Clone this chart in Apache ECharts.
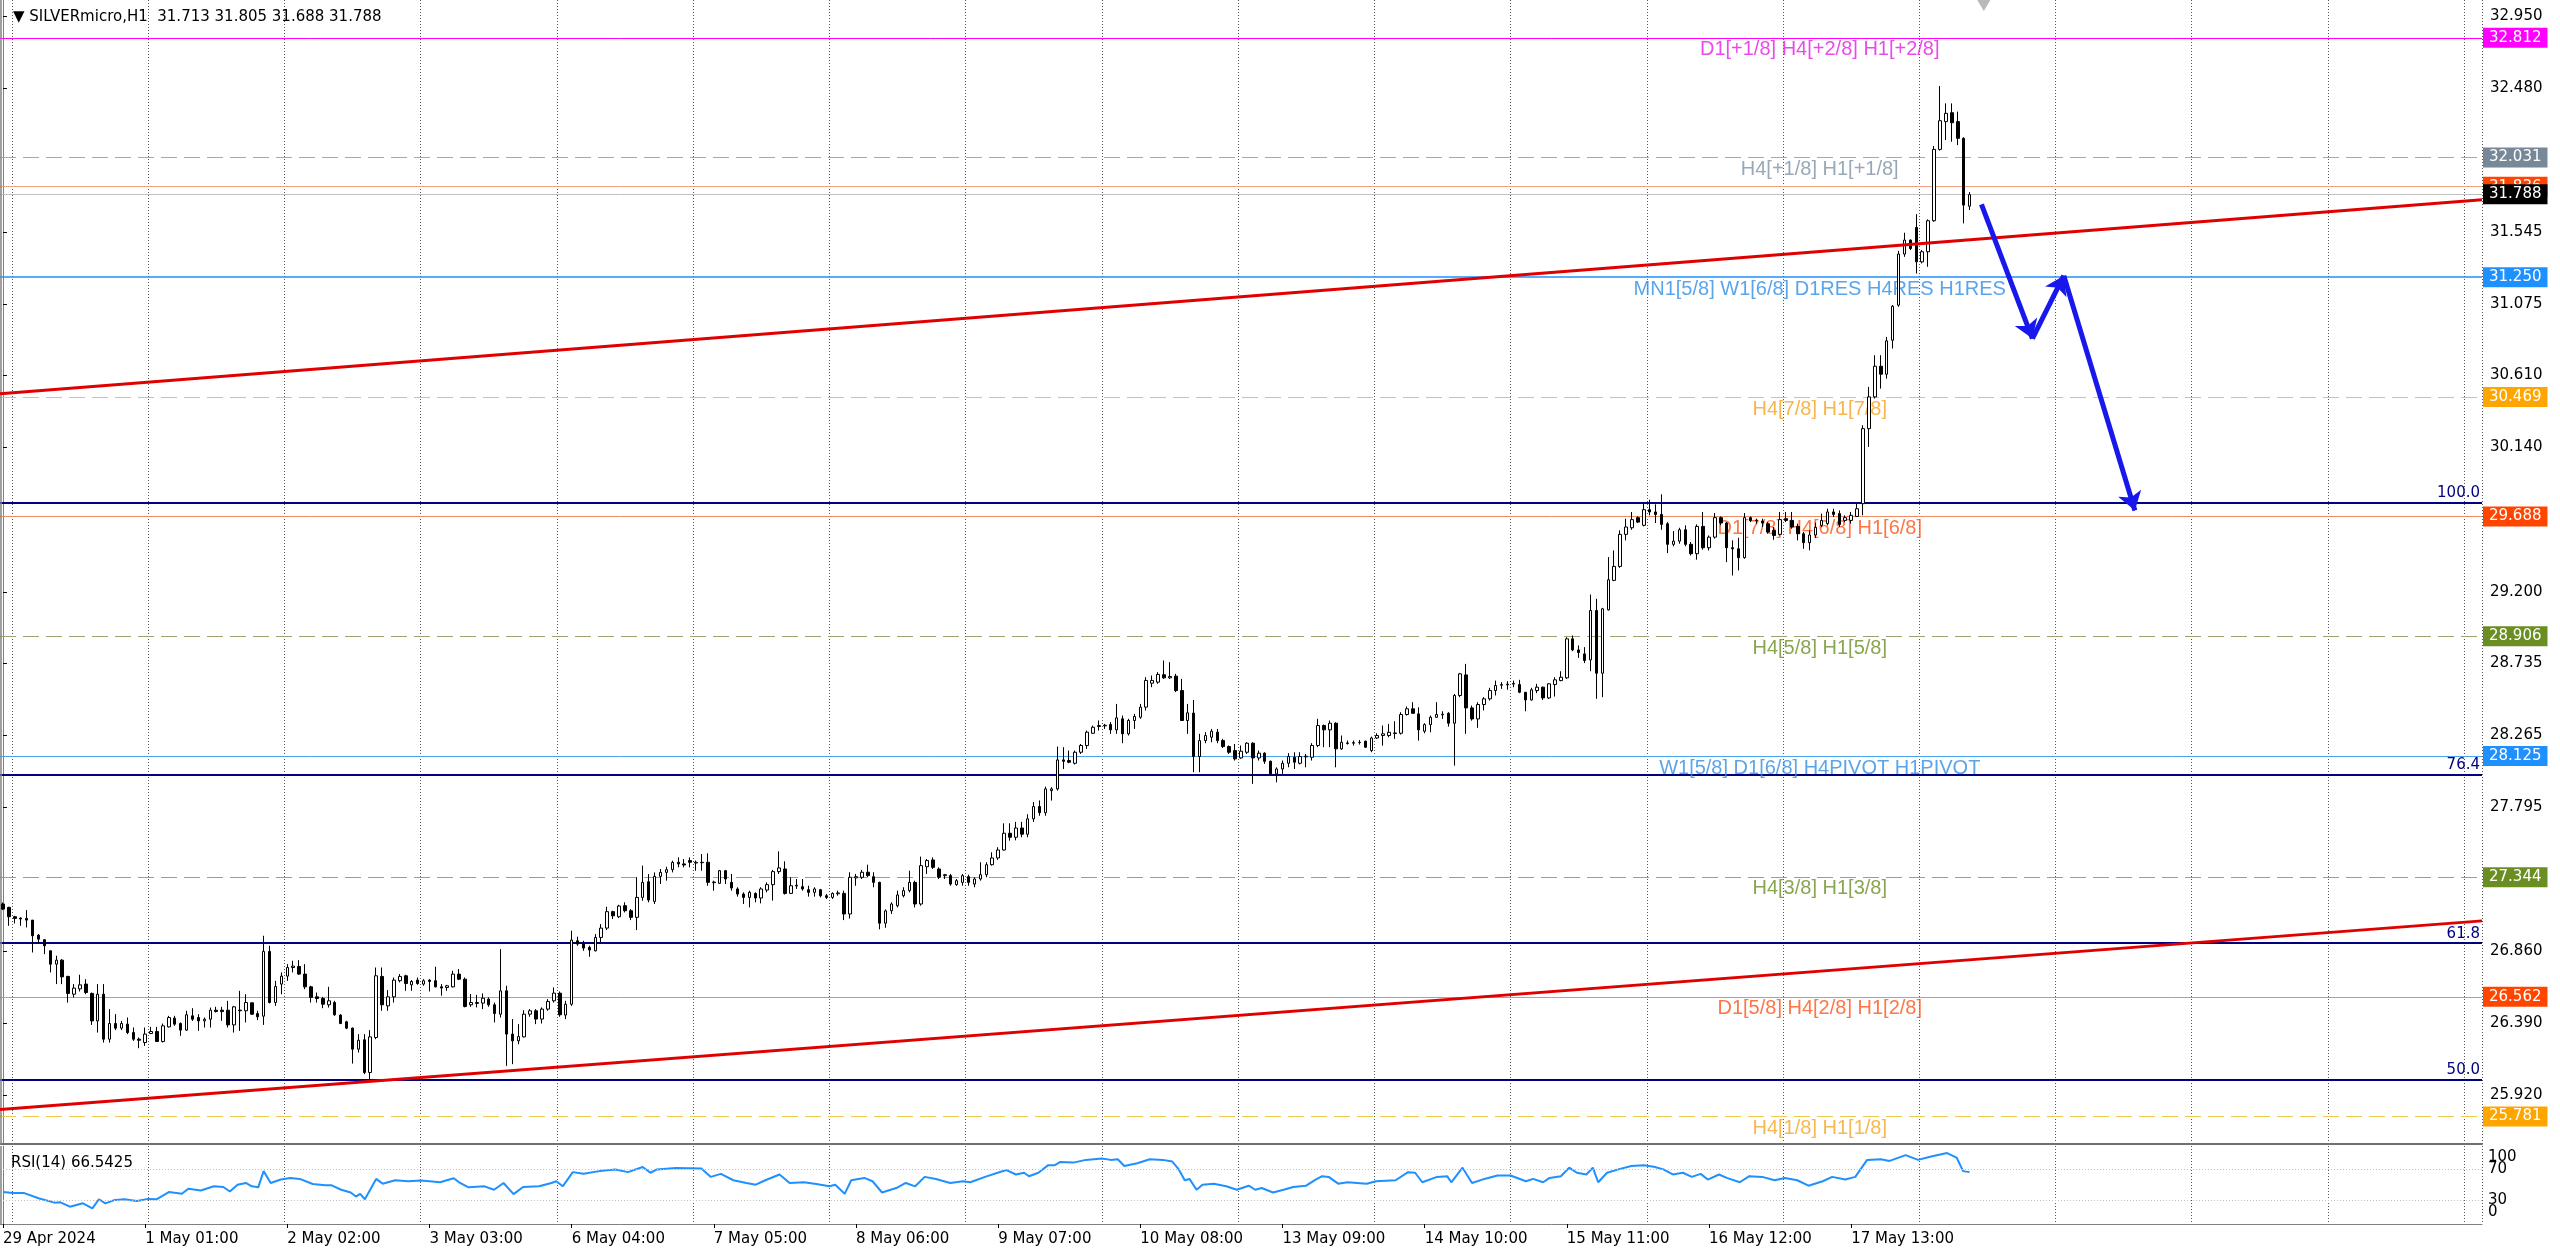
<!DOCTYPE html>
<html><head><meta charset="utf-8">
<script src="https://cdn.jsdelivr.net/npm/echarts@6/dist/echarts.min.js"></script>
<style>html,body{margin:0;padding:0;background:#fff;overflow:hidden}#c{width:2560px;height:1253px}</style>
</head><body><div id="c"></div>
<script>
// ---------------- DATA ----------------
const symbolName = 'SILVERmicro,H1';
const open = [
27.165,27.143,27.082,27.073,27.071,27.060,26.962,26.932,26.860,26.773,
26.799,26.693,26.577,26.612,26.643,26.582,26.403,26.577,26.284,26.386,
26.356,26.382,26.327,26.284,26.262,26.321,26.334,26.269,26.364,26.421,
26.386,26.343,26.436,26.425,26.403,26.414,26.473,26.473,26.473,26.377,
26.473,26.469,26.521,26.451,26.434,26.856,26.523,26.643,26.695,26.751,
26.758,26.708,26.625,26.560,26.549,26.508,26.523,26.441,26.397,26.356,
26.219,26.280,26.067,26.295,26.693,26.501,26.560,26.665,26.697,26.638,
26.669,26.643,26.669,26.665,26.625,26.621,26.625,26.708,26.675,26.508,
26.517,26.519,26.545,26.508,26.447,26.599,26.317,26.273,26.299,26.447,
26.469,26.415,26.480,26.534,26.584,26.441,26.512,26.925,26.904,26.882,
26.860,26.947,27.008,27.115,27.082,27.154,27.121,27.078,27.208,27.310,
27.182,27.345,27.371,27.389,27.437,27.426,27.448,27.432,27.434,27.437,
27.304,27.300,27.382,27.306,27.263,27.230,27.208,27.234,27.204,27.256,
27.291,27.376,27.393,27.234,27.282,27.278,27.258,27.241,27.258,27.219,
27.208,27.232,27.234,27.100,27.335,27.339,27.372,27.343,27.306,27.040,
27.121,27.154,27.219,27.252,27.306,27.165,27.408,27.452,27.393,27.350,
27.350,27.291,27.306,27.343,27.295,27.328,27.356,27.421,27.465,27.517,
27.626,27.600,27.660,27.620,27.720,27.800,27.760,27.904,27.915,28.104,
28.100,28.082,28.154,28.198,28.278,28.322,28.326,28.335,28.300,28.372,
28.274,28.361,28.382,28.448,28.604,28.611,28.659,28.639,28.650,28.556,
28.361,28.409,28.126,28.230,28.252,28.285,28.230,28.191,28.165,28.117,
28.154,28.213,28.117,28.148,28.095,28.013,28.045,28.082,28.121,28.082,
28.124,28.121,28.198,28.328,28.300,28.343,28.176,28.211,28.213,28.217,
28.226,28.165,28.247,28.263,28.263,28.276,28.278,28.400,28.437,28.404,
28.291,28.334,28.382,28.398,28.408,28.343,28.524,28.658,28.443,28.371,
28.465,28.502,28.556,28.591,28.593,28.598,28.595,28.545,28.495,28.556,
28.578,28.508,28.595,28.621,28.639,28.893,28.821,28.795,28.756,29.078,
28.669,29.082,29.274,29.365,29.574,29.617,29.683,29.633,29.735,29.720,
29.704,29.643,29.509,29.530,29.604,29.509,29.448,29.626,29.487,29.556,
29.683,29.648,29.487,29.480,29.422,29.683,29.663,29.661,29.643,29.600,
29.574,29.676,29.665,29.626,29.578,29.520,29.570,29.633,29.644,29.720,
29.709,29.665,29.665,29.691,29.774,30.263,30.470,30.670,30.618,30.839,
31.068,31.401,31.492,31.574,31.350,31.416,31.618,32.083,32.264,32.322,
32.264,32.155,31.713];
const high = [
27.175,27.147,27.088,27.078,27.125,27.060,26.969,26.936,26.860,26.828,
26.806,26.697,26.643,26.704,26.675,26.588,26.643,26.643,26.480,26.447,
26.403,26.425,26.360,26.295,26.360,26.364,26.364,26.386,26.436,26.436,
26.393,26.469,26.486,26.447,26.425,26.490,26.495,26.495,26.534,26.501,
26.599,26.577,26.523,26.469,26.958,26.893,26.664,26.719,26.773,26.795,
26.799,26.773,26.632,26.588,26.560,26.625,26.534,26.447,26.404,26.360,
26.317,26.317,26.343,26.751,26.751,26.604,26.686,26.708,26.704,26.669,
26.686,26.675,26.675,26.756,26.643,26.638,26.730,26.741,26.686,26.578,
26.573,26.582,26.556,26.523,26.871,26.632,26.415,26.382,26.473,26.480,
26.480,26.491,26.545,26.621,26.595,26.534,26.991,26.952,26.925,26.893,
26.969,27.034,27.147,27.121,27.160,27.176,27.132,27.339,27.415,27.360,
27.371,27.393,27.408,27.447,27.469,27.458,27.469,27.448,27.491,27.495,
27.317,27.387,27.387,27.361,27.274,27.241,27.252,27.241,27.274,27.306,
27.387,27.508,27.443,27.339,27.328,27.328,27.284,27.274,27.263,27.230,
27.241,27.252,27.252,27.372,27.361,27.387,27.421,27.372,27.310,27.130,
27.176,27.252,27.274,27.382,27.317,27.474,27.458,27.469,27.404,27.361,
27.361,27.328,27.361,27.356,27.339,27.437,27.437,27.502,27.535,27.691,
27.691,27.700,27.700,27.750,27.830,27.840,27.930,27.926,28.191,28.187,
28.165,28.165,28.208,28.295,28.328,28.361,28.339,28.350,28.469,28.393,
28.372,28.404,28.469,28.643,28.654,28.676,28.752,28.741,28.665,28.632,
28.469,28.495,28.274,28.285,28.306,28.306,28.241,28.198,28.208,28.198,
28.219,28.219,28.165,28.154,28.100,28.056,28.100,28.148,28.154,28.154,
28.143,28.213,28.372,28.335,28.361,28.350,28.263,28.230,28.230,28.234,
28.230,28.256,28.278,28.328,28.339,28.356,28.415,28.452,28.480,28.447,
28.343,28.393,28.480,28.421,28.415,28.534,28.671,28.730,28.458,28.480,
28.513,28.574,28.621,28.611,28.617,28.621,28.626,28.545,28.574,28.600,
28.582,28.604,28.643,28.682,28.904,28.915,28.850,28.839,29.182,29.154,
29.095,29.426,29.469,29.600,29.676,29.720,29.691,29.785,29.800,29.770,
29.835,29.654,29.596,29.617,29.633,29.524,29.639,29.720,29.567,29.713,
29.691,29.654,29.535,29.552,29.713,29.691,29.676,29.676,29.654,29.622,
29.720,29.720,29.720,29.644,29.590,29.600,29.650,29.709,29.741,29.741,
29.730,29.698,29.720,29.774,30.285,30.535,30.742,30.742,30.861,31.068,
31.422,31.540,31.496,31.661,31.427,31.627,32.105,32.496,32.383,32.383,
32.329,32.162,31.805];
const low = [
27.125,27.023,27.038,27.023,27.012,26.849,26.914,26.838,26.719,26.643,
26.643,26.523,26.556,26.595,26.577,26.377,26.327,26.262,26.262,26.343,
26.343,26.317,26.273,26.225,26.240,26.317,26.267,26.262,26.360,26.371,
26.306,26.338,26.403,26.338,26.360,26.360,26.458,26.403,26.360,26.327,
26.338,26.393,26.443,26.408,26.377,26.517,26.501,26.577,26.664,26.719,
26.704,26.610,26.523,26.523,26.486,26.490,26.436,26.382,26.349,26.125,
26.197,26.056,26.023,26.284,26.469,26.469,26.523,26.654,26.599,26.599,
26.638,26.632,26.595,26.621,26.567,26.599,26.621,26.669,26.491,26.495,
26.491,26.480,26.495,26.393,26.425,26.110,26.121,26.251,26.295,26.430,
26.382,26.386,26.469,26.523,26.430,26.415,26.501,26.893,26.860,26.821,
26.856,26.915,26.995,27.067,27.073,27.110,27.060,26.995,27.186,27.176,
27.165,27.295,27.317,27.371,27.404,27.404,27.404,27.382,27.382,27.284,
27.252,27.295,27.295,27.252,27.213,27.165,27.143,27.176,27.169,27.241,
27.187,27.361,27.226,27.230,27.263,27.252,27.213,27.213,27.208,27.198,
27.198,27.219,27.060,27.070,27.284,27.328,27.339,27.274,27.000,27.010,
27.100,27.143,27.208,27.241,27.143,27.154,27.361,27.393,27.328,27.328,
27.284,27.284,27.284,27.284,27.274,27.317,27.339,27.415,27.452,27.513,
27.578,27.580,27.600,27.600,27.700,27.740,27.740,27.839,27.904,28.045,
28.082,28.074,28.143,28.176,28.274,28.295,28.306,28.274,28.274,28.213,
28.263,28.306,28.372,28.426,28.578,28.600,28.632,28.632,28.546,28.361,
28.274,28.024,28.024,28.213,28.219,28.213,28.182,28.143,28.100,28.111,
28.143,27.948,28.100,28.078,28.008,27.958,28.013,28.056,28.045,28.074,
28.056,28.100,28.187,28.187,28.187,28.056,28.170,28.204,28.197,28.204,
28.182,28.154,28.241,28.197,28.252,28.241,28.269,28.393,28.404,28.230,
28.278,28.284,28.378,28.371,28.321,28.067,28.513,28.274,28.360,28.313,
28.426,28.491,28.524,28.567,28.561,28.578,28.539,28.421,28.491,28.539,
28.495,28.502,28.517,28.617,28.632,28.813,28.769,28.735,28.682,28.502,
28.513,29.078,29.269,29.356,29.535,29.604,29.648,29.626,29.698,29.648,
29.604,29.452,29.496,29.513,29.496,29.437,29.409,29.474,29.469,29.546,
29.633,29.393,29.306,29.339,29.415,29.654,29.643,29.622,29.578,29.539,
29.567,29.654,29.611,29.535,29.480,29.470,29.550,29.622,29.633,29.687,
29.622,29.654,29.644,29.687,29.698,30.144,30.459,30.524,30.589,30.785,
31.057,31.383,31.427,31.274,31.340,31.318,31.611,32.075,32.144,32.133,
32.111,31.601,31.688];
const close = [
27.132,27.082,27.071,27.067,27.060,26.958,26.936,26.893,26.773,26.799,
26.690,26.582,26.617,26.638,26.588,26.403,26.577,26.284,26.386,26.356,
26.386,26.327,26.284,26.277,26.317,26.334,26.269,26.371,26.425,26.382,
26.343,26.443,26.414,26.403,26.414,26.473,26.464,26.464,26.377,26.495,
26.469,26.523,26.447,26.430,26.856,26.523,26.627,26.695,26.751,26.760,
26.708,26.625,26.556,26.549,26.512,26.534,26.443,26.386,26.356,26.219,
26.277,26.067,26.299,26.697,26.508,26.560,26.669,26.693,26.647,26.660,
26.647,26.665,26.660,26.625,26.617,26.632,26.708,26.675,26.497,26.523,
26.523,26.551,26.508,26.451,26.599,26.317,26.273,26.301,26.447,26.469,
26.415,26.480,26.530,26.584,26.443,26.512,26.930,26.904,26.878,26.865,
26.947,27.008,27.115,27.088,27.152,27.121,27.078,27.208,27.306,27.191,
27.345,27.371,27.389,27.436,27.426,27.419,27.437,27.437,27.437,27.306,
27.308,27.382,27.328,27.269,27.230,27.208,27.241,27.204,27.263,27.291,
27.376,27.400,27.234,27.284,27.287,27.263,27.241,27.263,27.219,27.208,
27.234,27.237,27.100,27.339,27.343,27.372,27.350,27.306,27.040,27.120,
27.165,27.224,27.252,27.306,27.165,27.415,27.448,27.404,27.339,27.356,
27.295,27.317,27.350,27.306,27.328,27.356,27.421,27.465,27.517,27.626,
27.600,27.660,27.620,27.720,27.800,27.760,27.915,27.915,28.104,28.095,
28.089,28.154,28.198,28.285,28.317,28.328,28.330,28.300,28.378,28.274,
28.361,28.387,28.448,28.622,28.622,28.661,28.639,28.648,28.556,28.361,
28.411,28.126,28.230,28.263,28.291,28.230,28.191,28.154,28.111,28.161,
28.213,28.117,28.148,28.095,28.013,28.045,28.082,28.126,28.089,28.126,
28.128,28.198,28.328,28.300,28.343,28.176,28.219,28.215,28.217,28.219,
28.187,28.247,28.263,28.274,28.284,28.280,28.400,28.437,28.408,28.300,
28.334,28.382,28.400,28.402,28.343,28.524,28.665,28.443,28.371,28.465,
28.502,28.556,28.589,28.595,28.598,28.602,28.545,28.495,28.561,28.578,
28.508,28.600,28.626,28.643,28.893,28.821,28.804,28.752,29.078,28.669,
29.089,29.278,29.365,29.574,29.622,29.670,29.654,29.735,29.720,29.704,
29.639,29.509,29.530,29.604,29.509,29.448,29.626,29.487,29.556,29.683,
29.648,29.487,29.480,29.422,29.683,29.665,29.667,29.648,29.589,29.567,
29.670,29.665,29.622,29.578,29.520,29.570,29.620,29.665,29.720,29.704,
29.639,29.683,29.698,29.741,30.263,30.470,30.670,30.618,30.835,31.061,
31.401,31.492,31.437,31.350,31.416,31.618,32.083,32.270,32.318,32.257,
32.155,31.720,31.788];

const totalSlots = 419;   // bars + empty right-hand space on the time axis
const xLabels = ['29 Apr 2024','1 May 01:00','2 May 02:00','3 May 03:00','6 May 04:00','7 May 05:00','8 May 06:00','9 May 07:00','10 May 08:00','13 May 09:00','14 May 10:00','15 May 11:00','16 May 12:00','17 May 13:00'];
const xLabelBars = [0,24,48,72,96,120,144,168,192,216,240,264,288,312];
const gridBars = [2,25,48,71,94,117,140,163,186,209,232,255,278,301,324,347,370,393,416];
const priceTicks = [32.950,32.480,31.545,31.075,30.610,30.140,29.200,28.735,28.265,27.795,26.860,26.390,25.920];

const levelPrices = [32.812,32.031,31.836,31.250,30.469,29.688,28.906,28.125,27.344,26.562,25.781,31.788];
const levelNames = ['D1[+1/8] H4[+2/8] H1[+2/8]','H4[+1/8] H1[+1/8]','','MN1[5/8] W1[6/8] D1RES H4RES H1RES','H4[7/8] H1[7/8]','D1[7/8] H4[6/8] H1[6/8]','H4[5/8] H1[5/8]','W1[5/8] D1[6/8] H4PIVOT H1PIVOT','H4[3/8] H1[3/8]','D1[5/8] H4[2/8] H1[2/8]','H4[1/8] H1[1/8]',''];

const fibLevels = [100, 76.4, 61.8, 50];
const fibPrice100 = 29.780, fibPrice0 = 22.268;

const trendUpper = [[-0.5, 30.490],[418.5, 31.755]];
const trendLower = [[-0.5, 25.826],[418.5, 27.055]];
const arrowPath = [[334.0,31.724],[342.6,30.850],[347.9,31.260],[359.9,29.730]];
const sellMarker = [334.4, 33.05];

const rsiPoints = [[0,40.9],[1.7,39.6],[3.6,39.6],[6,33],[8.7,27.4],[9.7,27.8],[11.3,22.2],[13.5,26.5],[15.1,20],[16.2,31.7],
[17.3,26.5],[18.9,30.9],[20.5,31.7],[22.6,29.6],[24.5,32.2],[25.9,31.7],[28,40.9],[30.2,38.7],[31.3,45.2],[33.4,43],
[35.6,48.3],[37.2,47.4],[38.3,41.7],[39.6,50.4],[41,52.6],[42,48.3],[43.1,47],[44,67.8],[45.2,52.6],[46.9,57],
[48.5,59.1],[50.1,57.8],[52.3,51.3],[54.4,49.6],[55.5,49.6],[57.1,43.9],[58.7,40.4],[59.6,35.2],[60.3,38.7],[61.1,31.7],
[63,57.8],[64.1,51.7],[66.2,56.1],[68.4,54.8],[70.6,55.7],[73.8,53.5],[76.1,58.7],[77,53.5],[78.6,47],[81.3,48.3],
[82.9,43.9],[84.5,52.6],[86.2,38.3],[87.8,47.4],[90.5,48.3],[92.6,52.6],[93.4,54.8],[94.5,48.3],[96.2,66.5],[98,64.3],
[100.7,67.8],[103.4,70],[105.5,66.5],[108,73],[109.3,65.7],[110.4,70],[113.6,71.7],[117.9,71.3],[119.5,60.4],[121.2,64.3],
[123.3,56.1],[125.5,52.6],[127.1,50.4],[128.7,56.1],[131.1,63.5],[132.8,52.6],[135.2,53.5],[137.3,51.3],[139.5,48.3],[140.5,50.4],
[142.1,38.7],[143.2,56.1],[145.4,59.1],[146.8,54.8],[148.4,40.4],[150.8,46.1],[152.4,52.6],[154,48.3],[155.6,60.4],[157.5,57.8],
[159.9,52.6],[162.1,54.8],[163.3,53.5],[165.8,60.4],[168.3,66.7],[169.4,69.1],[171,63.5],[172.4,65.7],[173.2,61.3],[174.8,65.7],
[176.4,75.2],[177.5,75.2],[178.5,79.6],[180.7,78.7],[182.8,82.2],[185.5,83.9],[187,82.2],[188.2,83],[189.3,74.3],[191.5,77.8],
[193.6,83],[195.8,82.2],[197.4,80],[198.5,70],[199.5,56.1],[200.3,57.8],[201.5,43.9],[202.5,50.4],[204.4,51.7],[206.5,48.3],
[208.3,43.9],[210.3,49.1],[211.4,43.9],[212.5,46.1],[214.4,40.4],[216.2,43.9],[217.8,47.4],[220,49.1],[221.6,57],[222.7,61.3],
[223.8,60.4],[225.4,51.7],[227,53.5],[230.2,51.7],[231.8,54.8],[235.1,56.1],[237.2,66.5],[238.4,65.7],[239.6,53.5],[242.1,60.4],
[243.8,61.3],[244.5,53.5],[246.4,72.2],[248,52.6],[250.1,57.8],[252.3,62.2],[254.5,62.2],[257.1,54.8],[258.3,57.8],[260,53.5],
[261.1,59.1],[263,61.3],[264.4,72.2],[265.7,65.7],[267.3,63.5],[268.4,72.2],[269.3,53.5],[270.8,65.7],[272.7,70],[274.9,74.3],
[277,75.2],[278.7,73.5],[280.3,70],[281.9,63.5],[283.6,65.7],[285.1,60.4],[286.6,64.3],[287.8,57],[289.7,63.5],[291,59.1],
[293.2,53.5],[294.8,61.3],[297,60.4],[299.1,56.1],[300.8,59.1],[302.9,56.1],[304.8,49.1],[307.2,54.8],[308.8,60.4],[311,57],
[312.7,60.4],[314.7,82.2],[317,83],[318.5,80.9],[321.2,88.3],[323.3,82.2],[325.5,86.5],[328.2,90.9],[329.8,85.2],[330.9,67.8],
[332,66.5]];
const rsiLast = 66.5425;
const rsiLevels = [70, 30];
const rsiTicksInner = [70, 30];
const rsiTicksOuter = [100, 0];

// ---------------- STYLE / LAYOUT ----------------
const FONT = 'DejaVu Sans';
const LABEL_FONT = 'Liberation Sans';
const priceMin = 25.6008, priceMax = 33.0567;
const levelTextX = 306.7;
const frameX = -0.35;
const levelLineColor = ['#ff00ff','#a8a8a8','#f0a080','#1e90ff','#f0c050','#f08c64','#a0a070','#4aa3f0','#a0a070','#f08c64','#f0c850','#c0c0c0'];
const levelLineWidth = [1,1,1,1.5,1,1,1,1,1,1,1,1];
const levelDashed = [false,true,false,false,true,false,true,false,true,false,true,false];
const levelBoxColor = ['#ff00ff','#778899','#ff4500','#1e90ff','#ffa500','#ff4500','#6b8e23','#1e90ff','#6b8e23','#ff4500','#ffa500','#000000'];
const levelTextColor = ['#e21ee2','#8092a4','#ff4500','#2f8fe6','#f5a21e','#ff5214','#6b8e23','#2f8fe6','#6b8e23','#ff5214','#f5a623','#000'];

const candleData = open.map((o, i) => [o, close[i], low[i], high[i]]);
const categories = Array.from({length: totalSlots}, (_, i) => String(i));
const labelMap = {};
xLabelBars.forEach((b, k) => { labelMap[b] = xLabels[k]; });
const gridSet = new Set(gridBars);
const last = open.length - 1;

const levelMarks = levelPrices.map((p, k) => ({
  yAxis: p,
  lineStyle: {color: levelLineColor[k], width: levelLineWidth[k], type: levelDashed[k] ? [16, 7] : 'solid'},
  label: {show: true, position: 'end', distance: 1, formatter: p.toFixed(3), backgroundColor: levelBoxColor[k],
          color: '#fff', padding: [2, 6, 1, 6], fontSize: 15, lineHeight: 17, fontFamily: FONT}
}));
const fibMarks = fibLevels.map(l => ({
  yAxis: fibPrice0 + (fibPrice100 - fibPrice0) * l / 100,
  lineStyle: {color: '#000080', width: 2, type: 'solid'},
  label: {show: true, position: 'insideEndTop', distance: 2, formatter: l.toFixed(1), color: '#000080', fontSize: 15, fontFamily: FONT}
}));
const frameMark = {xAxis: frameX, lineStyle: {color: '#808080', width: 1.5, type: 'solid'}, label: {show: false}};

const splitLineStyle = {show: true, interval: (idx) => gridSet.has(idx), lineStyle: {color: '#555', width: 1, type: [1, 2]}};

const option = {
  animation: false,
  backgroundColor: '#fff',
  textStyle: {fontFamily: FONT},
  title: [
    {left: 8, top: 5, text: '▼ ' + symbolName + '  ' + [open[last], high[last], low[last], close[last]].map(v => v.toFixed(3)).join(' '),
     textStyle: {fontSize: 15, fontWeight: 'normal', color: '#000', fontFamily: FONT}},
    {left: 6, top: 1151, text: 'RSI(14) ' + rsiLast.toFixed(4),
     textStyle: {fontSize: 15, fontWeight: 'normal', color: '#000', fontFamily: FONT}}
  ],
  grid: [
    {left: 0, right: 78, top: 0, height: 1144, outerBoundsMode: 'none', containLabel: false},
    {left: 0, right: 78, top: 1146, height: 78, outerBoundsMode: 'none', containLabel: false}
  ],
  xAxis: [
    {type: 'category', gridIndex: 0, data: categories, boundaryGap: true,
     axisLine: {show: true, onZero: false, lineStyle: {color: '#707070', width: 2}},
     axisTick: {show: false}, axisLabel: {show: false}, splitLine: splitLineStyle},
    {type: 'category', gridIndex: 1, data: categories, boundaryGap: true, position: 'bottom',
     axisLine: {show: true, onZero: false, lineStyle: {color: '#808080', width: 1}},
     axisTick: {show: true, alignWithLabel: true, length: 4, interval: (idx) => labelMap[idx] !== undefined, lineStyle: {color: '#000'}},
     axisLabel: {show: true, interval: (idx) => labelMap[idx] !== undefined, formatter: (v) => labelMap[v] || '',
                 align: 'left', margin: 8, fontSize: 15, color: '#000', fontFamily: FONT, hideOverlap: false},
     splitLine: splitLineStyle},
    {type: 'value', gridIndex: 0, min: -0.5, max: totalSlots - 0.5, show: false},
    {type: 'value', gridIndex: 1, min: -0.5, max: totalSlots - 0.5, show: false}
  ],
  yAxis: [
    {type: 'value', gridIndex: 0, position: 'right', min: priceMin, max: priceMax,
     splitLine: {show: false},
     axisLine: {show: true, lineStyle: {color: '#808080'}},
     axisTick: {show: true, length: 4, customValues: priceTicks, lineStyle: {color: '#000'}},
     axisLabel: {customValues: priceTicks, formatter: (v) => v.toFixed(3), fontSize: 15, color: '#000', margin: 8, fontFamily: FONT, hideOverlap: false}},
    {type: 'value', gridIndex: 1, position: 'right', min: 0, max: 100,
     splitLine: {show: false},
     axisLine: {show: true, lineStyle: {color: '#808080'}},
     axisTick: {show: false},
     axisLabel: {customValues: rsiTicksInner, margin: 6, fontSize: 15, color: '#000', fontFamily: FONT,
       showMinLabel: true, showMaxLabel: true, hideOverlap: false}},
    {type: 'value', gridIndex: 1, position: 'right', min: 0, max: 100,
     splitLine: {show: false}, axisLine: {show: false}, axisTick: {show: false},
     axisLabel: {customValues: rsiTicksOuter, margin: 6, fontSize: 15, color: '#000', fontFamily: FONT,
       showMinLabel: true, showMaxLabel: true, hideOverlap: false,
       formatter: (v) => v === rsiTicksOuter[0] ? '{t|' + v + '}' : '{b|' + v + '}',
       rich: {t: {padding: [22, 0, 0, 0], fontSize: 15, color: '#000', fontFamily: FONT},
              b: {padding: [0, 0, 24, 0], fontSize: 15, color: '#000', fontFamily: FONT}}}}
  ],
  series: [
    {type: 'scatter', name: 'levelText', xAxisIndex: 2, yAxisIndex: 0, z: 2, silent: true,
     symbolSize: 1, itemStyle: {color: 'rgba(0,0,0,0)'},
     label: {show: true, position: 'inside', offset: [0, 12], formatter: '{b}', fontSize: 20, fontFamily: LABEL_FONT},
     data: levelPrices.map((p, k) => levelNames[k] ? {name: levelNames[k], value: [levelTextX, p], label: {color: levelTextColor[k]}} : null).filter(Boolean)},
    {type: 'candlestick', name: 'price', xAxisIndex: 0, yAxisIndex: 0, z: 3, barWidth: 3, silent: true,
     itemStyle: {color: '#ffffff', color0: '#000000', borderColor: '#000000', borderColor0: '#000000', borderWidth: 1},
     data: candleData},
    {type: 'line', name: 'trendLower', xAxisIndex: 2, yAxisIndex: 0, z: 4, symbol: 'none', silent: true,
     lineStyle: {color: '#e00000', width: 3}, data: trendLower,
     markLine: {silent: true, z: 1, symbol: ['none', 'none'], animation: false, data: fibMarks.concat(levelMarks, [frameMark])}},
    {type: 'line', name: 'trendUpper', xAxisIndex: 2, yAxisIndex: 0, z: 4, symbol: 'none', silent: true,
     lineStyle: {color: '#e00000', width: 3}, data: trendUpper},
    {type: 'lines', name: 'arrows', coordinateSystem: 'cartesian2d', xAxisIndex: 2, yAxisIndex: 0, z: 6, silent: true,
     symbol: ['none', 'arrow'], symbolSize: 18,
     lineStyle: {color: '#1818ec', width: 5, opacity: 1, curveness: 0},
     data: [{coords: [arrowPath[0], arrowPath[1]]}, {coords: [arrowPath[1], arrowPath[2]]}, {coords: [arrowPath[2], arrowPath[3]]}]},
    {type: 'scatter', name: 'marker', xAxisIndex: 2, yAxisIndex: 0, z: 6, silent: true,
     symbol: 'triangle', symbolRotate: 180, symbolSize: [24, 20], itemStyle: {color: '#a8a8a8'}, data: [sellMarker]},
    {type: 'line', name: 'RSI', xAxisIndex: 3, yAxisIndex: 1, z: 4, symbol: 'none', silent: true,
     lineStyle: {color: '#1e90ff', width: 2}, data: rsiPoints,
     markLine: {silent: true, symbol: ['none', 'none'], label: {show: false},
       lineStyle: {color: '#c0c0c0', width: 1, type: [1, 2]},
       data: rsiLevels.map(v => ({yAxis: v})).concat([{xAxis: frameX, lineStyle: {color: '#808080', width: 1.5, type: 'solid'}}])}}
  ]
};
const chart = echarts.init(document.getElementById('c'), null, {renderer: 'canvas'});
chart.setOption(option);
</script></body></html>
